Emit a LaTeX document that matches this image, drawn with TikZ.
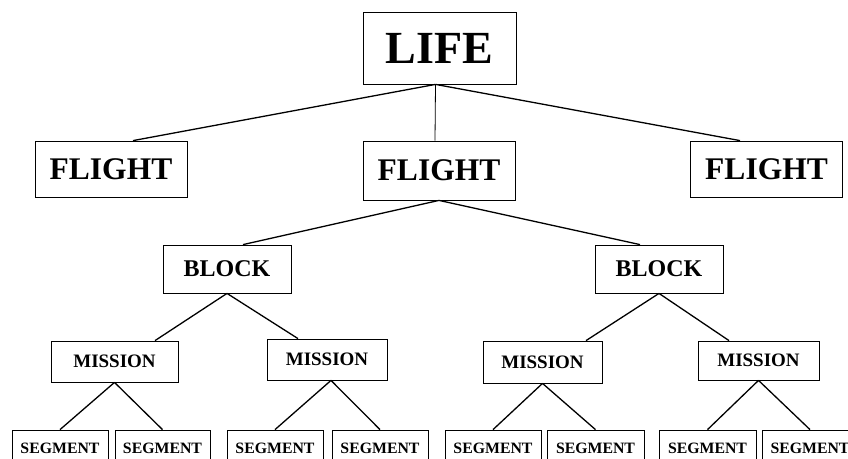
\documentclass[tikz,border=0pt]{standalone}
\usepackage{fontspec}
\setmainfont{Liberation Serif}
\begin{document}
\begin{tikzpicture}[x=1pt,y=-1pt,
  box/.style={draw, line width=0.8pt, inner sep=0pt, fill=white},
  lifebox/.style={box, minimum width=153pt, minimum height=72pt, font=\fontsize{46}{46}\selectfont\bfseries},
  flightbox/.style={box, minimum width=152pt, minimum height=56pt, font=\fontsize{31.5}{31.5}\selectfont\bfseries},
  blockbox/.style={box, minimum width=128pt, minimum height=48pt, font=\fontsize{24}{24}\selectfont\bfseries},
  missionbox/.style={box, minimum width=122pt, minimum height=41pt, font=\fontsize{19}{19}\selectfont\bfseries},
  segbox/.style={box, minimum width=96pt, minimum height=36pt, font=\fontsize{15.8}{15.8}\selectfont\bfseries},
  link/.style={line width=1.3pt}]
\useasboundingbox (0,0) rectangle (848,458);
\fill[white] (0,0) rectangle (848,458);
% nodes
\node[lifebox] (life) at (439.5,48) {LIFE};
\node[flightbox] (f1) at (111,169) {FLIGHT};
\node[flightbox, minimum height=59pt] (f2) at (439,170.5) {FLIGHT};
\node[flightbox] (f3) at (766.5,169) {FLIGHT};
\node[blockbox] (b1) at (227,269) {BLOCK};
\node[blockbox] (b2) at (659,269) {BLOCK};
\node[missionbox, minimum width=127pt] (m1) at (114.5,361.5) {MISSION};
\node[missionbox, minimum width=120pt] (m2) at (327,359.5) {MISSION};
\node[missionbox, minimum width=119pt, minimum height=42pt] (m3) at (542.5,362) {MISSION};
\node[missionbox, minimum width=121pt, minimum height=39pt] (m4) at (758.5,360.5) {MISSION};
\node[segbox] (s1) at (60,448) {SEGMENT};
\node[segbox, minimum width=95pt] (s2) at (162.5,448) {SEGMENT};
\node[segbox] (s3) at (275,448) {SEGMENT};
\node[segbox] (s4) at (380,448) {SEGMENT};
\node[segbox] (s5) at (493,448) {SEGMENT};
\node[segbox, minimum width=97pt] (s6) at (595.5,448) {SEGMENT};
\node[segbox, minimum width=97pt] (s7) at (707.5,448) {SEGMENT};
\node[segbox] (s8) at (810,448) {SEGMENT};
% connectors
\draw[link] ([xshift=-4pt]life.south) -- ([xshift=22pt]f1.north);
\draw[line width=0.8pt] ([xshift=-4pt]life.south) -- ([xshift=-4pt]f2.north);
\draw[link] ([xshift=-4pt]life.south) -- ([xshift=-26.5pt]f3.north);
\draw[link] (f2.south) -- ([xshift=16pt]b1.north);
\draw[link] (f2.south) -- ([xshift=-19pt]b2.north);
\draw[link] (b1.south) -- ([xshift=40.5pt]m1.north);
\draw[link] (b1.south) -- ([xshift=-29pt]m2.north);
\draw[link] (b2.south) -- ([xshift=43.5pt]m3.north);
\draw[link] (b2.south) -- ([xshift=-29.5pt]m4.north);
\draw[link] (m1.south) -- (s1.north);
\draw[link] (m1.south) -- (s2.north);
\draw[link] ([xshift=4pt]m2.south) -- (s3.north);
\draw[link] ([xshift=4pt]m2.south) -- (s4.north);
\draw[link] (m3.south) -- (s5.north);
\draw[link] (m3.south) -- (s6.north);
\draw[link] (m4.south) -- (s7.north);
\draw[link] (m4.south) -- (s8.north);
\end{tikzpicture}
\end{document}
